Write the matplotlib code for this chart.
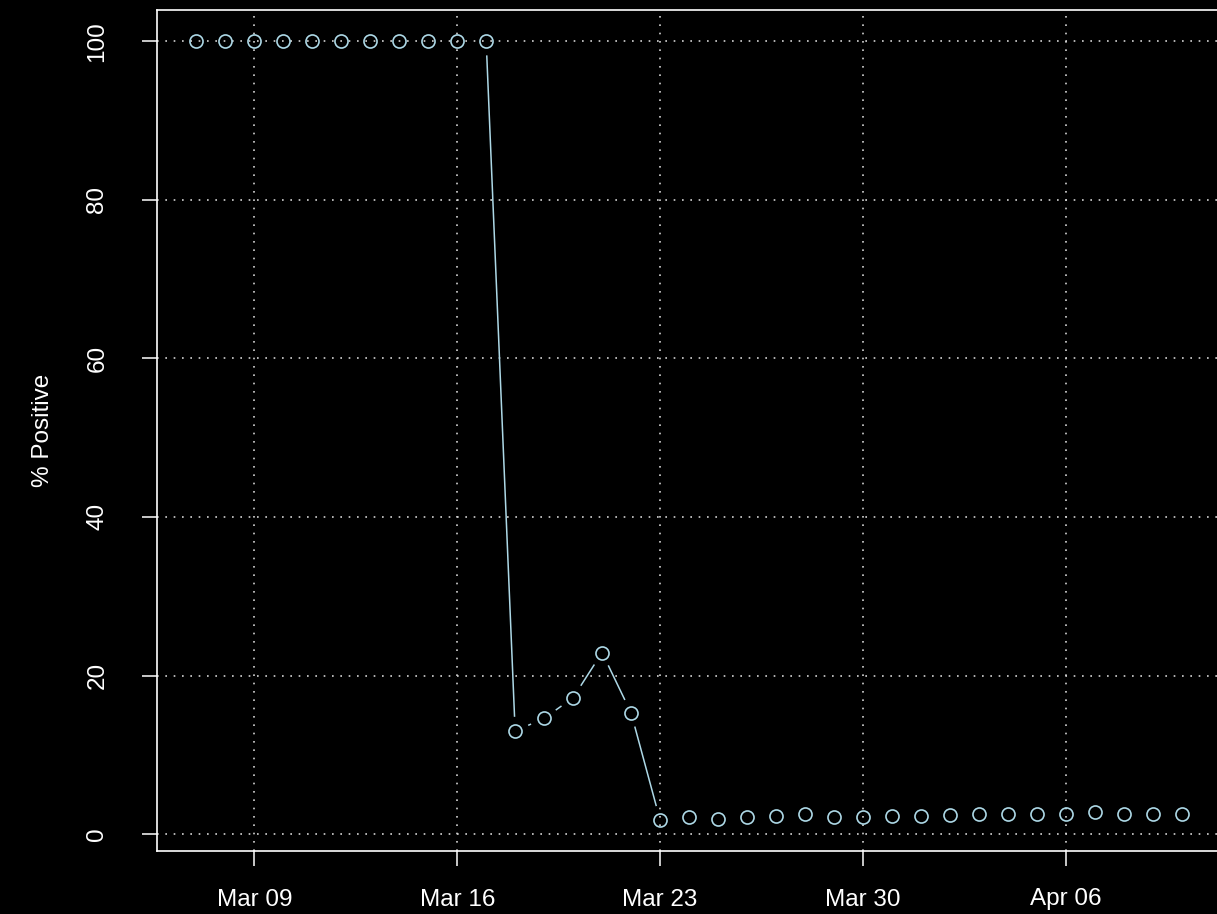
import matplotlib
matplotlib.use("Agg")
import matplotlib.pyplot as plt
import matplotlib.dates as mdates
import numpy as np
import pandas as pd

# daily share of positive tests
dates = pd.date_range("2020-03-07", "2020-04-10", freq="D")
pct_positive = [100, 100, 100, 100, 100, 100, 100, 100, 100, 100, 100,
                13.0, 14.6, 17.2, 22.9, 15.3,
                1.8, 2.1, 1.9, 2.1, 2.3, 2.6, 2.1, 2.15, 2.3, 2.25,
                2.4, 2.6, 2.5, 2.6, 2.55, 2.75, 2.55, 2.6, 2.6]
x_ticks = ["2020-03-09", "2020-03-16", "2020-03-23", "2020-03-30", "2020-04-06"]
y_ticks = [0, 20, 40, 60, 80, 100]

plt.rcParams['font.family'] = ['Liberation Sans', 'DejaVu Sans']
fg = 'white'
pt_col = '#ADD8E6'

W, H = 1217, 914
fig = plt.figure(figsize=(W / 100, H / 100), dpi=100, facecolor='black')
# box from x=157..1221 px, y=10..851 px (right edge falls just off the image)
ax = fig.add_axes([157 / W, (H - 851) / H, (1221 - 157) / W, (851 - 10) / H])
ax.set_facecolor('black')

xn = mdates.date2num(dates.to_pydatetime())
y = np.array(pct_positive, dtype=float)

# R style 4% padding
xr = xn[-1] - xn[0]
yr = y.max() - y.min()
ax.set_xlim(xn[0] - 0.04 * xr, xn[-1] + 0.04 * xr)
ax.set_ylim(y.min() - 0.04 * yr, y.max() + 0.04 * yr)

# grid
for t in x_ticks:
    ax.axvline(mdates.date2num(pd.Timestamp(t)), color='#D3D3D3', lw=1.2,
               dashes=(1, 4), zorder=1)
for t in y_ticks:
    ax.axhline(t, color='#D3D3D3', lw=1.2, dashes=(1, 4), zorder=1)

# type="b": segments with gaps around each point
gap = 15  # px
pts = ax.transData.transform(np.column_stack([xn, y]))
inv = ax.transData.inverted()
for (x0, y0), (x1, y1) in zip(pts[:-1], pts[1:]):
    d = np.hypot(x1 - x0, y1 - y0)
    if d <= 2 * gap:
        continue
    ux, uy = (x1 - x0) / d, (y1 - y0) / d
    a = inv.transform((x0 + ux * gap, y0 + uy * gap))
    b = inv.transform((x1 - ux * gap, y1 - uy * gap))
    ax.plot([a[0], b[0]], [a[1], b[1]], color=pt_col, lw=1.1, zorder=2)

ax.plot(xn, y, linestyle='none', marker='o', ms=9.4, mfc='none',
        mec=pt_col, mew=1.2, zorder=3)

ax.set_xticks([mdates.date2num(pd.Timestamp(t)) for t in x_ticks])
ax.xaxis.set_major_formatter(mdates.DateFormatter('%b %d'))
ax.set_yticks(y_ticks)
ax.set_yticklabels([str(v) for v in y_ticks], rotation=90, va='center')

ax.tick_params(colors=fg, labelsize=17.5, length=11, width=1.1)
ax.tick_params(axis='x', pad=16)
ax.tick_params(axis='y', pad=24)
for s in ax.spines.values():
    s.set_color(fg)
    s.set_linewidth(1.2)

ax.set_ylabel('% Positive', color=fg, fontsize=17.5)
ax.yaxis.set_label_coords(-(157 - 54) / (1221 - 157), 0.5)

fig.savefig('out.png', dpi=100, facecolor='black')
